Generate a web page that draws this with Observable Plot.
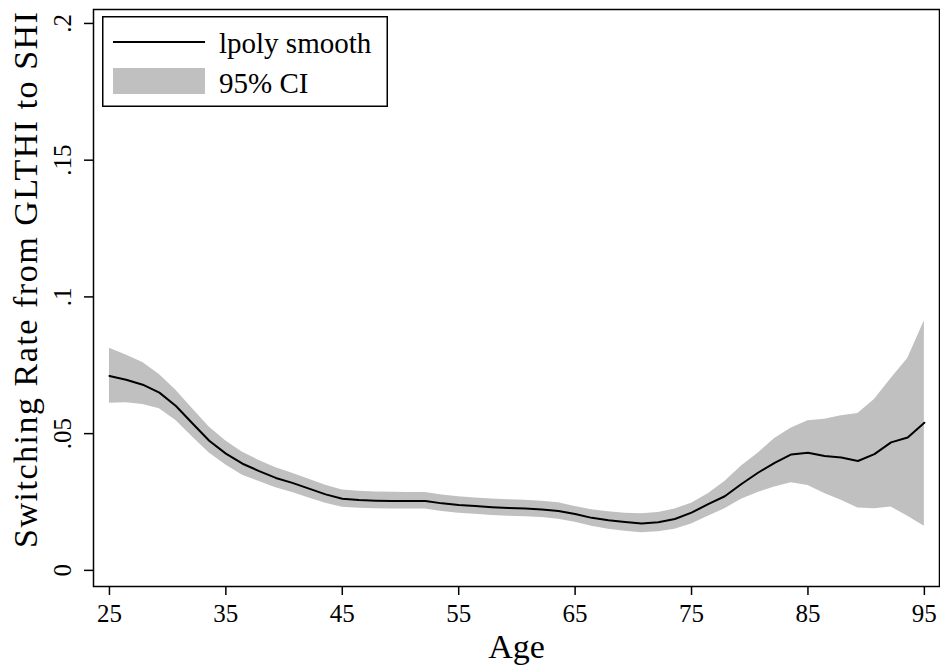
<!DOCTYPE html>
<html>
<head>
<meta charset="utf-8">
<script src="https://cdn.jsdelivr.net/npm/d3@7"></script>
<script src="https://cdn.jsdelivr.net/npm/@observablehq/plot@0.6"></script>
<style>
  body { margin: 0; background: #fff; }
  #wrap { position: relative; width: 940px; height: 668px; font-family: "Liberation Serif", serif; }
  #legend { position: absolute; left: 102px; top: 16px; width: 286px; height: 91px; }
</style>
</head>
<body>
<div id="wrap">
  <div id="chart"></div>
  <svg id="legend" width="286" height="91" viewBox="0 0 286 91">
    <rect x="0.75" y="0.75" width="284.5" height="89.5" fill="#fff" stroke="#000" stroke-width="1.5"></rect>
    <line x1="11" x2="103" y1="26" y2="26" stroke="#000" stroke-width="2"></line>
    <rect x="11" y="52" width="92" height="26" fill="#c0c0c0"></rect>
    <text x="117" y="37" font-family="Liberation Serif" font-size="29" fill="#000">lpoly smooth</text>
    <text x="117" y="77" font-family="Liberation Serif" font-size="29" fill="#000">95% CI</text>
  </svg>
</div>
<script>
// Local polynomial grid (50 points, age 25 to 95)
const ages = [25, 26.43, 27.86, 29.29, 30.71, 32.14, 33.57, 35, 36.43, 37.86,
  39.29, 40.71, 42.14, 43.57, 45, 46.43, 47.86, 49.29, 50.71, 52.14,
  53.57, 55, 56.43, 57.86, 59.29, 60.71, 62.14, 63.57, 65, 66.43,
  67.86, 69.29, 70.71, 72.14, 73.57, 75, 76.43, 77.86, 79.29, 80.71,
  82.14, 83.57, 85, 86.43, 87.86, 89.29, 90.71, 92.14, 93.57, 95];

const smooth = [0.0711, 0.0697, 0.0679, 0.0650, 0.0601, 0.0537, 0.0474, 0.0427, 0.0390, 0.0363,
  0.0338, 0.0320, 0.0299, 0.0278, 0.0262, 0.0257, 0.0255, 0.0254, 0.0254, 0.0254,
  0.0245, 0.0239, 0.0235, 0.0231, 0.0228, 0.0226, 0.0223, 0.0217, 0.0206, 0.0192,
  0.0183, 0.0177, 0.0171, 0.0176, 0.0188, 0.0211, 0.0242, 0.0271, 0.0316, 0.0357,
  0.0393, 0.0424, 0.0430, 0.0418, 0.0413, 0.0400, 0.0425, 0.0468, 0.0486, 0.0540];

const ciLow = [0.0611, 0.0613, 0.0607, 0.0591, 0.0548, 0.0488, 0.0429, 0.0385, 0.0348, 0.0325,
  0.0302, 0.0285, 0.0265, 0.0245, 0.0231, 0.0227, 0.0225, 0.0224, 0.0224, 0.0224,
  0.0215, 0.0209, 0.0205, 0.0201, 0.0198, 0.0196, 0.0193, 0.0187, 0.0176, 0.0161,
  0.0150, 0.0143, 0.0138, 0.0141, 0.0150, 0.0170, 0.0198, 0.0225, 0.0260, 0.0285,
  0.0305, 0.0320, 0.0310, 0.0281, 0.0256, 0.0228, 0.0225, 0.0232, 0.0198, 0.0161];

const ciHigh = [0.0812, 0.0788, 0.0760, 0.0716, 0.0659, 0.0591, 0.0524, 0.0473, 0.0432, 0.0402,
  0.0375, 0.0355, 0.0333, 0.0311, 0.0294, 0.0289, 0.0287, 0.0286, 0.0285, 0.0285,
  0.0276, 0.0269, 0.0265, 0.0261, 0.0258, 0.0256, 0.0253, 0.0247, 0.0234, 0.0222,
  0.0214, 0.0209, 0.0207, 0.0212, 0.0224, 0.0245, 0.0280, 0.0325, 0.0382, 0.0428,
  0.0482, 0.0521, 0.0547, 0.0553, 0.0565, 0.0574, 0.0625, 0.0702, 0.0775, 0.0913];

const xTicks = [25, 35, 45, 55, 65, 75, 85, 95];
const yTicks = [0, 0.05, 0.1, 0.15, 0.2];
const yTickLabels = ["0", ".05", ".1", ".15", ".2"];
const xTitle = "Age";
const yTitle = "Switching Rate from GLTHI to SHI";

const rows = ages.map((a, i) => ({age: a, fit: smooth[i], lo: ciLow[i], hi: ciHigh[i]}));

const chart = Plot.plot({
  width: 940,
  height: 668,
  marginLeft: 93,
  marginRight: 1,
  marginTop: 9,
  marginBottom: 82,
  style: {fontFamily: "Liberation Serif", fontSize: "25px", color: "#000", background: "#fff"},
  x: {domain: [23.63, 96.3]},
  y: {domain: [-0.0059, 0.2051]},
  marks: [
    Plot.areaY(rows, {x: "age", y1: "lo", y2: "hi", fill: "#c0c0c0"}),
    Plot.lineY(rows, {x: "age", y: "fit", stroke: "#000", strokeWidth: 2}),
    Plot.frame({stroke: "#000", strokeWidth: 1.5}),
    Plot.axisX({ticks: xTicks, tickSize: 9, tickPadding: 9, label: null, fontSize: 25, stroke: "#000", strokeWidth: 1.5}),
    Plot.axisY({ticks: yTicks, tickSize: 9, tickFormat: () => "", label: null, stroke: "#000", strokeWidth: 1.5}),
    Plot.text(yTicks, {y: d => d, text: (d, i) => yTickLabels[i], frameAnchor: "left", rotate: -90,
      dx: -23, textAnchor: "middle", lineAnchor: "bottom", fontSize: 25, fill: "#000"}),
    Plot.text([xTitle], {text: d => d, frameAnchor: "bottom", lineAnchor: "bottom", dy: 71, fontSize: 34, fill: "#000"}),
    Plot.text([yTitle], {text: d => d, frameAnchor: "left", rotate: -90, textAnchor: "middle",
      lineAnchor: "bottom", dx: -57, dy: -18, fontSize: 34, fill: "#000", className: "ytitle"})
  ]
});
document.getElementById("chart").appendChild(chart);
// stretch the y-axis title to the reference's length
d3.select(chart).selectAll("g.ytitle text").attr("textLength", 536).attr("lengthAdjust", "spacing");
</script>
</body>
</html>
